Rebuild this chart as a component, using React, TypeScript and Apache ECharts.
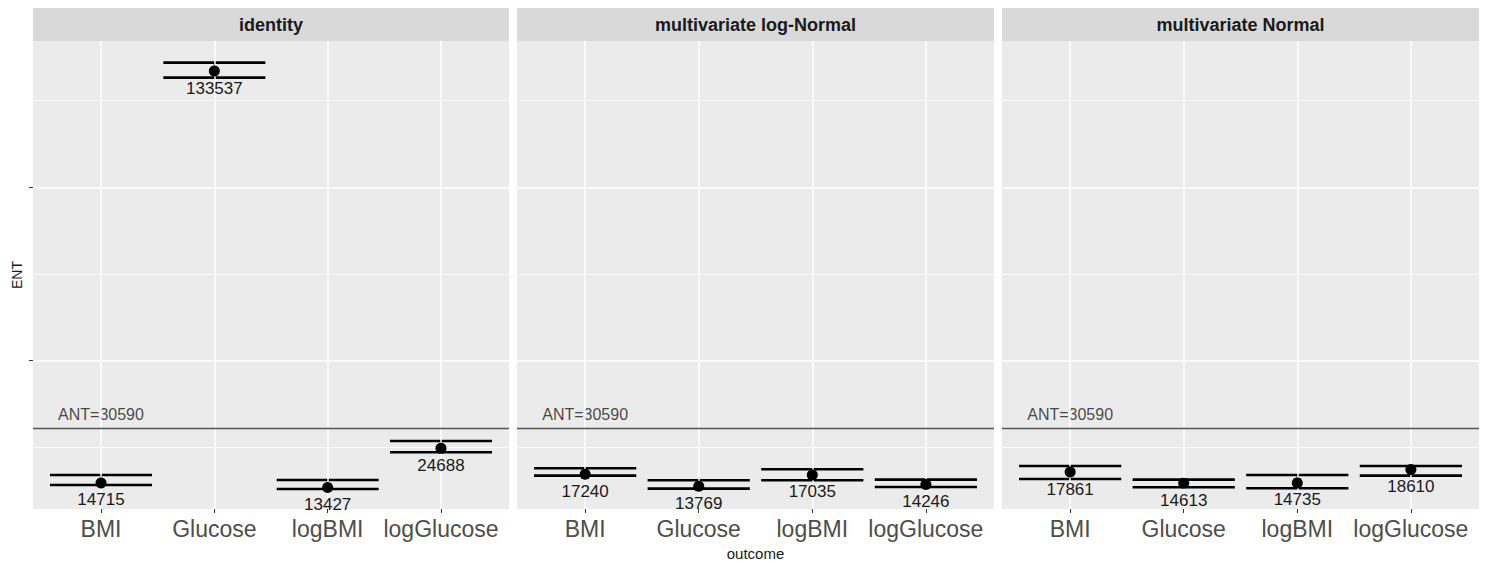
import React, { useEffect, useRef } from "react";
import * as echarts from "echarts";

const categories = ["BMI", "Glucose", "logBMI", "logGlucose"];
const facets = ["identity", "multivariate log-Normal", "multivariate Normal"];

const identityEst = [14715, 133537, 13427, 24688];
const identityLower = [14140, 131640, 12980, 23570];
const identityUpper = [17020, 135970, 15580, 26830];

const logNormalEst = [17240, 13769, 17035, 14246];
const logNormalLower = [16820, 13070, 15490, 13560];
const logNormalUpper = [18950, 15490, 18670, 15670];

const normalEst = [17861, 14613, 14735, 18610];
const normalLower = [15870, 13470, 13180, 16820];
const normalUpper = [19620, 15670, 17020, 19620];

const antValue = 30590;
const yMajorTicks = [50000, 100000];
const yMinorTicks = [25000, 75000, 125000];
const yMin = 7200;
const yMax = 142200;

const estimates = [identityEst, logNormalEst, normalEst];
const lowers = [identityLower, logNormalLower, normalLower];
const uppers = [identityUpper, logNormalUpper, normalUpper];

const FONT = "'Liberation Sans', Arial, sans-serif";

const panelLefts = [33, 517, 1002];
const panelWidths = [476, 477, 477];
const panelTop = 41;
const panelHeight = 468;
const stripTop = 8;
const stripHeight = 33;

export default function App() {
  const ref = useRef<HTMLDivElement>(null);

  useEffect(() => {
    if (!ref.current) return;
    const chart = echarts.init(ref.current, null, { renderer: "svg" });

    const grids = panelLefts.map((left, i) => ({
      left,
      top: panelTop,
      width: panelWidths[i],
      height: panelHeight,
      show: true,
      backgroundColor: "#EBEBEB",
      borderWidth: 0,
      containLabel: false,
      outerBoundsMode: "none",
    }));

    const catPositions = categories.map((_, k) => k + 1);

    const xAxes = panelLefts.map((_, i) => ({
      type: "value",
      gridIndex: i,
      min: 0.4,
      max: 4.6,
      axisLine: { show: false },
      splitLine: { show: false },
      axisTick: {
        show: true,
        customValues: catPositions,
        length: 4,
        lineStyle: { color: "#333333", width: 1 },
      },
      axisLabel: {
        show: true,
        customValues: catPositions,
        formatter: (v: number) => categories[Math.round(v) - 1] ?? "",
        fontSize: 23,
        color: "#4D4D4D",
        fontFamily: FONT,
        margin: 8,
      },
      name: i === 1 ? "outcome" : "",
      nameLocation: "middle",
      nameGap: 37,
      nameTextStyle: { fontSize: 15, color: "#1A1A1A", fontFamily: FONT },
    }));

    const yAxes = panelLefts.map((_, i) => ({
      type: "value",
      gridIndex: i,
      min: yMin,
      max: yMax,
      axisLine: { show: false },
      splitLine: { show: false },
      axisTick: {
        show: i === 0,
        customValues: yMajorTicks,
        length: 4,
        lineStyle: { color: "#333333", width: 1 },
      },
      axisLabel: { show: false },
      name: i === 0 ? "ENT" : "",
      nameLocation: "middle",
      nameRotate: 90,
      nameGap: 9,
      nameTextStyle: { fontSize: 14, color: "#1A1A1A", fontFamily: FONT },
    }));

    const series: any[] = [];
    panelLefts.forEach((_, i) => {
      series.push({
        type: "line",
        xAxisIndex: i,
        yAxisIndex: i,
        data: [],
        z: 1,
        silent: true,
        markLine: {
          silent: true,
          symbol: "none",
          animation: false,
          label: { show: false },
          lineStyle: { color: "#FFFFFF", type: "solid" },
          data: [
            ...yMinorTicks.map((v) => ({ yAxis: v, lineStyle: { width: 0.8, color: "#FFFFFF", type: "solid" } })),
            ...yMajorTicks.map((v) => ({ yAxis: v, lineStyle: { width: 1.5, color: "#FFFFFF", type: "solid" } })),
            ...catPositions.map((v) => ({ xAxis: v, lineStyle: { width: 1.5, color: "#FFFFFF", type: "solid" } })),
          ],
        },
      });
      series.push({
        type: "line",
        xAxisIndex: i,
        yAxisIndex: i,
        data: [],
        z: 2,
        silent: true,
        markLine: {
          silent: true,
          symbol: "none",
          animation: false,
          label: { show: false },
          data: [{ yAxis: antValue, lineStyle: { width: 1.4, color: "#555555", type: "solid" } }],
        },
      });
      series.push({
        type: "scatter",
        xAxisIndex: i,
        yAxisIndex: i,
        z: 3,
        symbolSize: 0,
        silent: true,
        data: [[1, antValue]],
        label: {
          show: true,
          position: "top",
          distance: 5,
          formatter: () => `ANT=${antValue}`,
          fontSize: 16,
          color: "#1A1A1A",
          fontFamily: FONT,
        },
      });
      series.push({
        type: "custom",
        xAxisIndex: i,
        yAxisIndex: i,
        z: 4,
        silent: true,
        data: categories.map((_, k) => [k + 1, lowers[i][k], uppers[i][k]]),
        renderItem: (params: any, api: any) => {
          const x = api.value(0);
          const lo = api.value(1);
          const hi = api.value(2);
          const hw = 0.45;
          const a1 = api.coord([x - hw, hi]);
          const a2 = api.coord([x + hw, hi]);
          const b1 = api.coord([x - hw, lo]);
          const b2 = api.coord([x + hw, lo]);
          const c1 = api.coord([x, hi]);
          const c2 = api.coord([x, lo]);
          const style = { stroke: "#000000", lineWidth: 2.6 };
          return {
            type: "group",
            children: [
              { type: "line", shape: { x1: a1[0], y1: a1[1], x2: a2[0], y2: a2[1] }, style },
              { type: "line", shape: { x1: b1[0], y1: b1[1], x2: b2[0], y2: b2[1] }, style },
              { type: "line", shape: { x1: c1[0], y1: c1[1], x2: c2[0], y2: c2[1] }, style: { stroke: "#000000", lineWidth: 1.2 } },
            ],
          };
        },
      });
      series.push({
        type: "scatter",
        xAxisIndex: i,
        yAxisIndex: i,
        z: 5,
        symbol: "circle",
        symbolSize: 11,
        itemStyle: { color: "#000000", opacity: 1 },
        silent: true,
        data: categories.map((_, k) => [k + 1, estimates[i][k]]),
        label: {
          show: true,
          position: "bottom",
          distance: 3,
          formatter: (p: any) => String(p.value[1]),
          fontSize: 17,
          color: "#1A1A1A",
          fontFamily: FONT,
        },
      });
    });

    const graphics: any[] = [];
    facets.forEach((name, i) => {
      graphics.push({
        type: "rect",
        left: panelLefts[i],
        top: stripTop,
        shape: { width: panelWidths[i], height: stripHeight },
        style: { fill: "#D9D9D9" },
        silent: true,
      });
      graphics.push({
        type: "text",
        x: panelLefts[i] + panelWidths[i] / 2,
        y: stripTop + stripHeight / 2,
        style: {
          text: name,
          fontSize: 18,
          fontWeight: "bold",
          fill: "#1A1A1A",
          fontFamily: FONT,
          align: "center",
          verticalAlign: "middle",
        },
        silent: true,
      });
    });

    chart.setOption({
      animation: false,
      backgroundColor: "#FFFFFF",
      grid: grids,
      xAxis: xAxes,
      yAxis: yAxes,
      series,
      graphic: graphics,
    });

    return () => chart.dispose();
  }, []);

  return (
    <div
      ref={ref}
      style={{ position: "absolute", left: 0, top: 0, width: 1489, height: 564 }}
    />
  );
}
